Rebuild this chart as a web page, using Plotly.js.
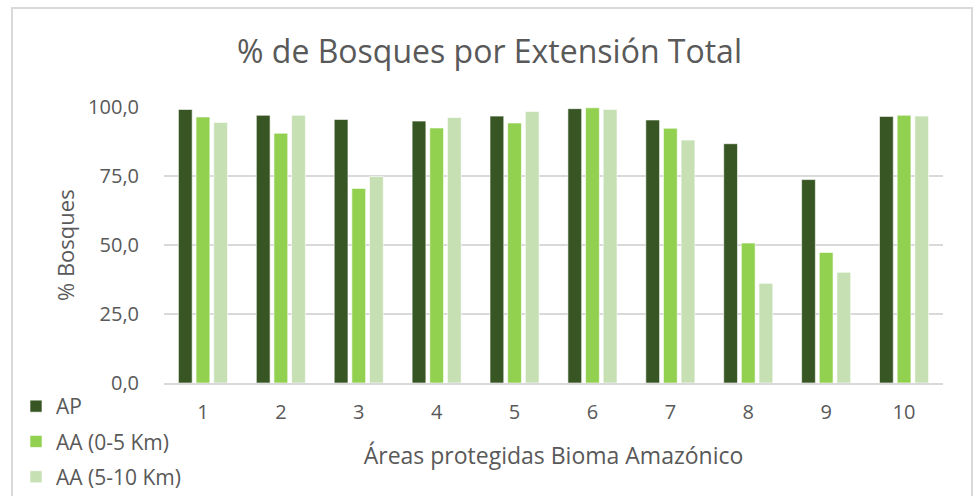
<!DOCTYPE html>
<html>
<head>
<meta charset="utf-8">
<script src="https://cdn.plot.ly/plotly-3.0.1.min.js"></script>
<style>
  body { margin: 0; background: #fff; }
  #chart { width: 979px; height: 496px; }
</style>
</head>
<body>
<div id="chart"></div>
<script>
// areas 1..10
var areas = ['1', '2', '3', '4', '5', '6', '7', '8', '9', '10'];
var seriesNames = ['AP', 'AA (0-5 Km)', 'AA (5-10 Km)'];

// values (% de bosques)
var ap     = [99.1, 97.0, 95.5, 94.9, 96.7, 99.4, 95.3, 86.7, 73.7, 96.6];
var aa05   = [96.4, 90.5, 70.5, 92.4, 94.2, 99.7, 92.3, 50.7, 47.3, 97.0];
var aa510  = [94.4, 97.0, 74.8, 96.2, 98.4, 99.1, 88.0, 36.1, 40.1, 96.7];

var colors = ['#375623', '#92D050', '#C6E0B4'];
var values = [ap, aa05, aa510];

var fontFam = '"Open Sans", "Noto Sans", sans-serif';

var data = values.map(function (v, i) {
  return {
    x: areas,
    y: v,
    name: seriesNames[i],
    type: 'bar',
    legendgroup: 'g' + i,
    marker: { color: colors[i], line: { color: 'rgba(255,255,255,0.6)', width: 1 } }
  };
});

var layout = {
  width: 979,
  height: 496,
  margin: { l: 164, r: 36, t: 107, b: 113, autoexpand: false },
  paper_bgcolor: '#fff',
  plot_bgcolor: '#fff',
  separators: ',.',
  font: { family: fontFam, color: '#595959' },
  title: {
    text: '% de Bosques por Extensión Total',
    font: { size: 32, color: '#595959', family: fontFam },
    xref: 'container', x: 0.5, xanchor: 'center',
    yref: 'container', y: 1 - 52 / 496, yanchor: 'middle'
  },
  barmode: 'group',
  bargap: 0.32,
  bargroupgap: 0.22,
  xaxis: {
    type: 'category',
    tickfont: { size: 20, color: '#595959' },
    ticks: 'outside', ticklen: 10, tickcolor: 'rgba(0,0,0,0)',
    showline: true,
    linecolor: '#d9d9d9',
    linewidth: 2,
    automargin: false,
    title: { text: 'Áreas protegidas Bioma Amazónico', font: { size: 23, color: '#595959' }, standoff: 24 }
  },
  yaxis: {
    range: [0, 100],
    dtick: 25,
    tickformat: '.1f',
    tickfont: { size: 20, color: '#595959' },
    ticks: 'outside', ticklen: 20, tickcolor: 'rgba(0,0,0,0)',
    gridcolor: '#d9d9d9',
    gridwidth: 1.5,
    zeroline: false,
    automargin: false
  },
  // y title as annotation (axis title standoff misplaces it here)
  annotations: [{
    text: '% Bosques',
    xref: 'paper', yref: 'paper',
    x: (65 - 164) / 779, y: 0.5,
    xanchor: 'center', yanchor: 'middle',
    textangle: -90, showarrow: false,
    font: { size: 22, color: '#595959' }
  }],
  showlegend: true,
  legend: {
    orientation: 'v',
    xref: 'container', x: 16 / 979, xanchor: 'left',
    yref: 'container', y: 1 - 386 / 496, yanchor: 'top',
    traceorder: 'grouped',
    tracegroupgap: 5,
    font: { size: 21, color: '#595959' },
    bgcolor: 'rgba(0,0,0,0)'
  },
  shapes: [{
    type: 'rect', xref: 'paper', yref: 'paper',
    x0: (12 - 164) / 779, x1: (972 - 164) / 779,
    y0: -0.5, y1: 1 + (107 - 8) / 276,
    line: { color: '#d9d9d9', width: 2 },
    layer: 'below'
  }]
};

Plotly.newPlot('chart', data, layout, { displayModeBar: false });
</script>
</body>
</html>
